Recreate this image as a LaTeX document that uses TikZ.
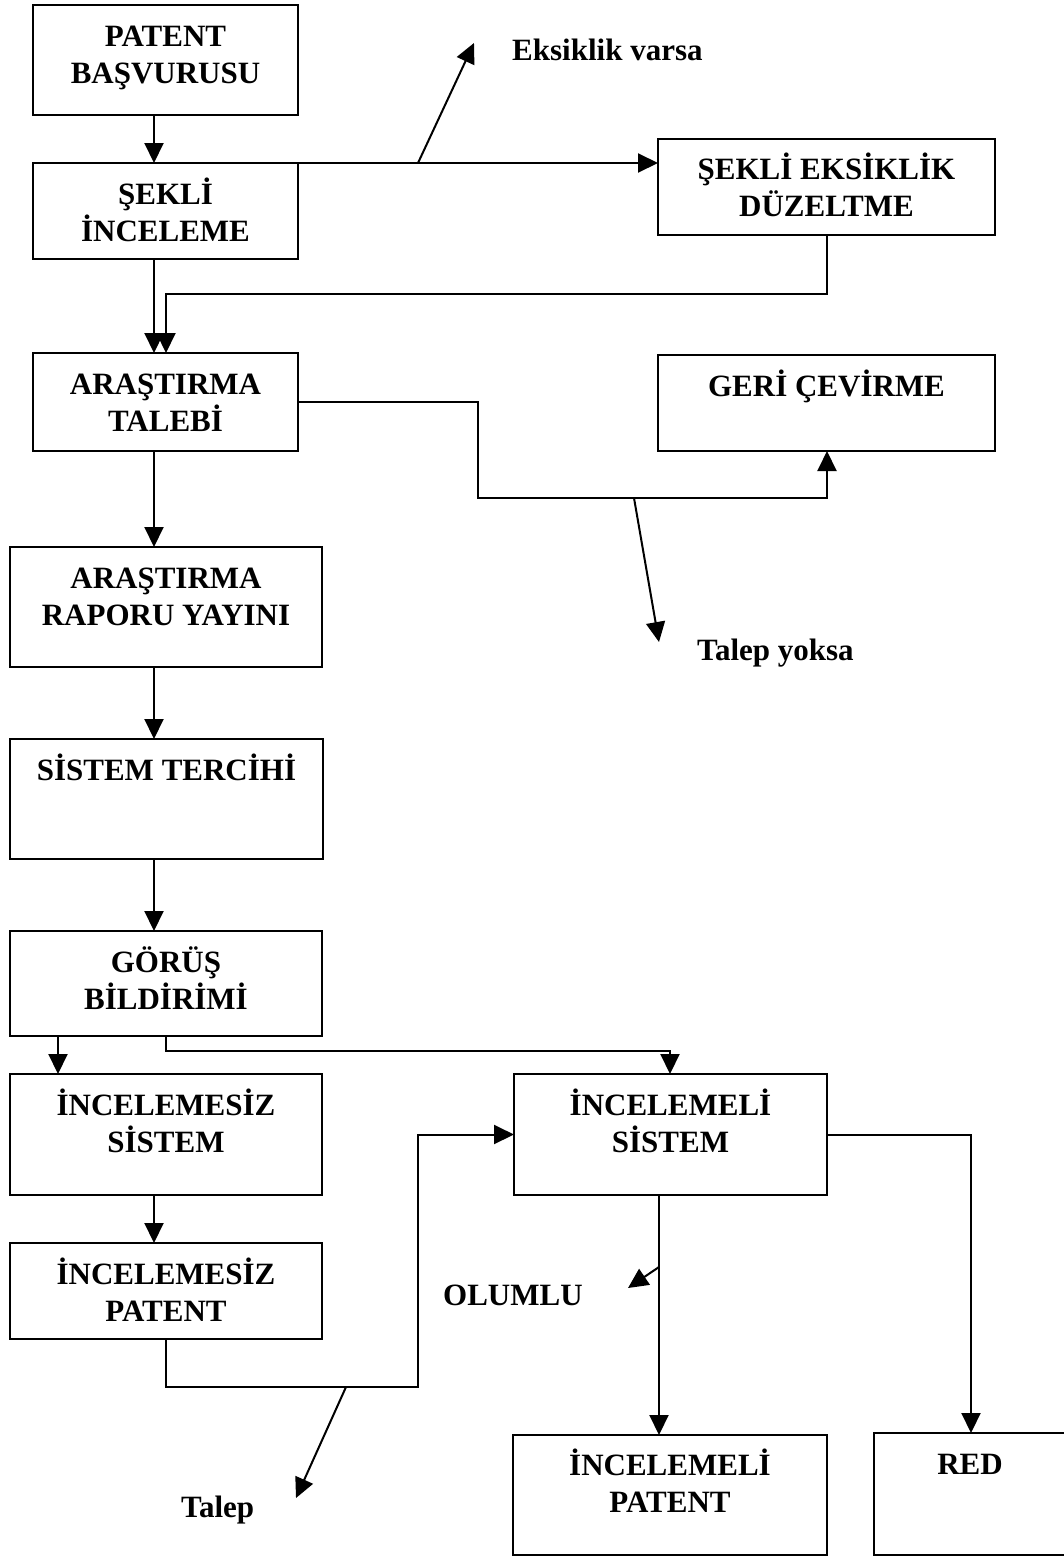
\documentclass[tikz,border=0pt]{standalone}
\usepackage{fontspec}
\setmainfont{Liberation Serif}
\usetikzlibrary{arrows.meta,calc}
\begin{document}
\begin{tikzpicture}[x=1pt,y=-1pt,
  box/.style={draw, line width=2pt, rectangle, inner sep=0pt, outer sep=0pt, anchor=north west},
  lbl/.style={font=\fontsize{31}{37}\selectfont\bfseries, align=center, inner sep=0pt, anchor=base},
  note/.style={font=\fontsize{31}{37}\selectfont\bfseries, inner sep=0pt, anchor=base west},
  arr/.style={line width=2pt, -{Triangle[length=20pt,width=19pt]}}]
\useasboundingbox (0,0) rectangle (1064,1556);

% boxes (two-line labels: base is the last line, so shift by 41+37)
\node[box, minimum width=265pt, minimum height=110pt] (A) at (33,5) {};
\node[lbl] (At) at ([yshift=-78pt]A.north) {PATENT\\BAŞVURUSU};

\node[box, minimum width=265pt, minimum height=96pt] (B) at (33,163) {};
\node[lbl] (Bt) at ([yshift=-78pt]B.north) {ŞEKLİ\\İNCELEME};

\node[box, minimum width=337pt, minimum height=96pt] (C) at (658,139) {};
\node[lbl] (Ct) at ([yshift=-77pt]C.north) {ŞEKLİ EKSİKLİK\\DÜZELTME};

\node[box, minimum width=265pt, minimum height=98pt] (D) at (33,353) {};
\node[lbl] (Dt) at ([yshift=-78pt]D.north) {ARAŞTIRMA\\TALEBİ};

\node[box, minimum width=337pt, minimum height=96pt] (GR) at (658,355) {};
\node[lbl] (GRt) at ([yshift=-41pt]GR.north) {GERİ ÇEVİRME};

\node[box, minimum width=312pt, minimum height=120pt] (E) at (10,547) {};
\node[lbl] (Et) at ([yshift=-78pt]E.north) {ARAŞTIRMA\\RAPORU YAYINI};

\node[box, minimum width=313pt, minimum height=120pt] (F) at (10,739) {};
\node[lbl] (Ft) at ([yshift=-41pt]F.north) {SİSTEM TERCİHİ};

\node[box, minimum width=312pt, minimum height=105pt] (G) at (10,931) {};
\node[lbl] (Gt) at ([yshift=-78pt]G.north) {GÖRÜŞ\\BİLDİRİMİ};

\node[box, minimum width=312pt, minimum height=121pt] (H) at (10,1074) {};
\node[lbl] (Ht) at ([yshift=-78pt]H.north) {İNCELEMESİZ\\SİSTEM};

\node[box, minimum width=313pt, minimum height=121pt] (I) at (514,1074) {};
\node[lbl] (It) at ([yshift=-78pt]I.north) {İNCELEMELİ\\SİSTEM};

\node[box, minimum width=312pt, minimum height=96pt] (J) at (10,1243) {};
\node[lbl] (Jt) at ([yshift=-78pt]J.north) {İNCELEMESİZ\\PATENT};

\node[box, minimum width=314pt, minimum height=120pt] (K) at (513,1435) {};
\node[lbl] (Kt) at ([yshift=-77pt]K.north) {İNCELEMELİ\\PATENT};

\node[box, minimum width=192pt, minimum height=122pt] (RED) at (874,1433) {};
\node[lbl] (REDt) at ([yshift=-41pt]RED.north) {RED};

% free labels
\node[note] (EV) at (512,60) {Eksiklik varsa};
\node[note] (TY) at (697,660) {Talep yoksa};
\node[note] (TL) at (181,1517) {Talep};
\node[note] (OL) at (443,1305) {OLUMLU};

\coordinate (evs) at (418,163);
\coordinate (eve) at (474,43);
\coordinate (tys) at (634,498);
\coordinate (tye) at (659,642);
\coordinate (tls) at (346,1387);
\coordinate (tle) at (296,1498);
\coordinate (ols) at (659,1267);
\coordinate (ole) at (628,1288);

% connectors
\draw[arr] ([xshift=121pt]A.south west) -- ([xshift=121pt]B.north west);
\draw[arr] (B.north east) -- (B.north east -| C.west);
\draw[arr] (evs) -- (eve);
\draw[arr] ([xshift=121pt]B.south west) -- ([xshift=121pt]D.north west);
\draw[arr] ([xshift=169pt]C.south west) -- ++(0,59) -| ([xshift=133pt]D.north west);
\draw[arr] (D.east) -| ++(180,96) -| ([xshift=169pt]GR.south west);
\draw[arr] (tys) -- (tye);
\draw[arr] ([xshift=121pt]D.south west) -- ([xshift=144pt]E.north west);
\draw[arr] ([xshift=144pt]E.south west) -- ([xshift=144pt]F.north west);
\draw[arr] ([xshift=144pt]F.south west) -- ([xshift=144pt]G.north west);
\draw[arr] ([xshift=48pt]G.south west) -- ([xshift=48pt]H.north west);
\draw[arr] ([xshift=156pt]G.south west) -- ++(0,15) -| ([xshift=156pt]I.north west);
\draw[arr] ([xshift=144pt]H.south west) -- ([xshift=144pt]J.north west);
\draw[arr] ([xshift=156pt]J.south west) -- ++(0,48) -- ++(252,0) |- (I.west);
\draw[arr] (tls) -- (tle);
\draw[arr] ([xshift=145pt]I.south west) -- ([xshift=146pt]K.north west);
\draw[arr] (ols) -- (ole);
\draw[arr] (I.east) -| ([xshift=97pt]RED.north west);
\end{tikzpicture}
\end{document}
